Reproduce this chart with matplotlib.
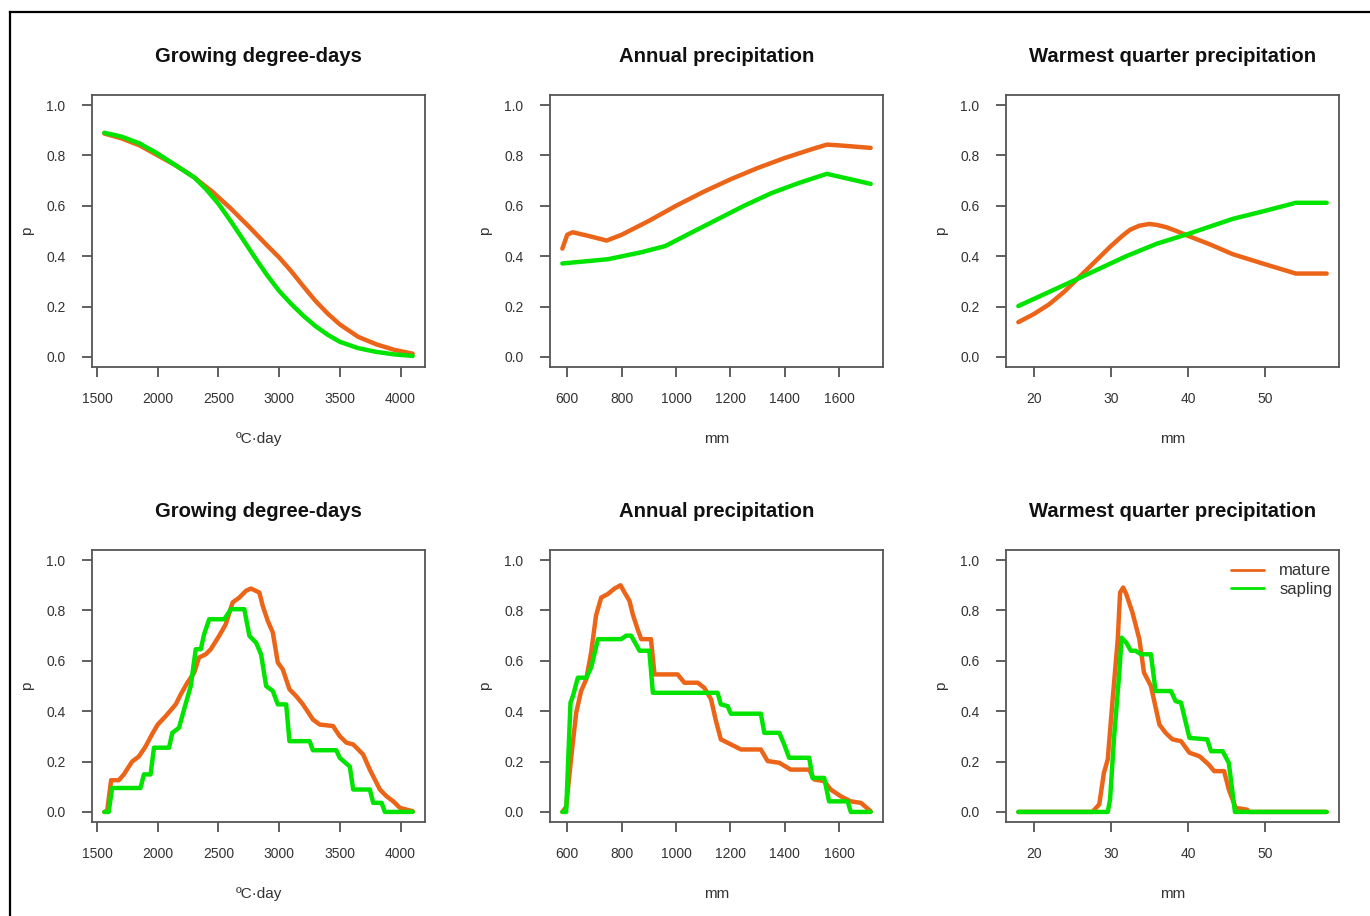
import matplotlib
matplotlib.use('Agg')
import matplotlib.pyplot as plt
from matplotlib.lines import Line2D

# ---- data ----
# top row: fitted response curves
gdd_x_m = [1560, 1700, 1850, 2000, 2150, 2300, 2450, 2600, 2750, 2900, 3000, 3100, 3200, 3300,
           3400, 3500, 3650, 3800, 3950, 4100]
gdd_mature = [0.887, 0.868, 0.84, 0.80, 0.76, 0.713, 0.656, 0.59, 0.518, 0.443, 0.395, 0.34,
              0.28, 0.222, 0.172, 0.129, 0.08, 0.05, 0.028, 0.013]
gdd_x_s = [1560, 1700, 1850, 2000, 2150, 2300, 2400, 2500, 2600, 2700, 2800, 2900, 3000, 3100,
           3200, 3300, 3400, 3500, 3650, 3800, 3950, 4100]
gdd_sapling = [0.89, 0.875, 0.848, 0.807, 0.76, 0.713, 0.665, 0.608, 0.54, 0.468, 0.395, 0.325,
               0.262, 0.21, 0.163, 0.122, 0.088, 0.06, 0.035, 0.02, 0.01, 0.004]

ap_x_m = [582, 600, 620, 680, 745, 800, 900, 1000, 1100, 1200, 1300, 1400, 1500, 1555, 1600, 1716]
ap_mature = [0.43, 0.485, 0.495, 0.48, 0.462, 0.485, 0.54, 0.60, 0.655, 0.705, 0.75, 0.79, 0.825, 0.843, 0.84, 0.83]
ap_x_s = [582, 750, 870, 960, 1050, 1150, 1250, 1350, 1450, 1555, 1716]
ap_sapling = [0.371, 0.388, 0.415, 0.44, 0.49, 0.545, 0.60, 0.65, 0.69, 0.727, 0.687]

wq_x_m = [18, 20, 22, 24, 26, 28, 30, 31.5, 32.5, 33.7, 35, 36, 37.2, 38.5, 40, 43, 45.8, 50, 54, 58]
wq_mature = [0.138, 0.17, 0.209, 0.26, 0.32, 0.38, 0.44, 0.481, 0.505, 0.521, 0.528, 0.524,
             0.515, 0.50, 0.481, 0.445, 0.408, 0.368, 0.331, 0.331]
wq_x_s = [18, 24.2, 32, 36, 40, 45.8, 50, 54, 58]
wq_sapling = [0.202, 0.289, 0.40, 0.45, 0.488, 0.548, 0.58, 0.612, 0.612]

# bottom row: observed frequencies
gdd_ox_m = [1560, 1583, 1616, 1679, 1721, 1762, 1789, 1844, 1900, 1955, 2000, 2065, 2148, 2190,
            2244, 2300, 2340, 2395, 2437, 2507, 2560, 2617, 2672, 2727, 2768, 2837, 2865, 2906,
            2948, 2989, 3030, 3085, 3140, 3196, 3278, 3334, 3444, 3499, 3554, 3610, 3692, 3747,
            3830, 3885, 3940, 3995, 4100]
gdd_obs_mature = [0.0, 0.003, 0.126, 0.126, 0.149, 0.18, 0.20, 0.22, 0.26, 0.31, 0.347, 0.38,
                  0.427, 0.467, 0.513, 0.553, 0.613, 0.626, 0.646, 0.70, 0.745, 0.832, 0.851,
                  0.878, 0.887, 0.871, 0.818, 0.759, 0.712, 0.593, 0.566, 0.487, 0.46, 0.427,
                  0.367, 0.347, 0.341, 0.301, 0.275, 0.268, 0.228, 0.168, 0.089, 0.062, 0.042,
                  0.016, 0.003]
gdd_ox_s = [1560, 1596, 1624, 1858, 1886, 1941, 1969, 2093, 2120, 2175, 2217, 2272, 2313, 2355,
            2382, 2424, 2548, 2603, 2713, 2755, 2810, 2851, 2893, 2948, 2989, 3058, 3085, 3251,
            3278, 3471, 3499, 3582, 3610, 3747, 3775, 3844, 3871, 4100]
gdd_obs_sapling = [0.0, 0.0, 0.095, 0.095, 0.149, 0.149, 0.255, 0.255, 0.314, 0.334, 0.407,
                   0.50, 0.646, 0.646, 0.706, 0.765, 0.765, 0.805, 0.805, 0.699, 0.672, 0.626,
                   0.50, 0.48, 0.427, 0.427, 0.281, 0.281, 0.245, 0.245, 0.215, 0.18, 0.089,
                   0.089, 0.036, 0.036, 0.0, 0.0]

ap_ox_m = [582, 596, 615, 633, 651, 670, 688, 706, 725, 749, 774, 796, 811, 829, 841, 859, 872,
           908, 921, 1006, 1031, 1080, 1104, 1129, 1147, 1165, 1202, 1239, 1312, 1337, 1380,
           1422, 1490, 1508, 1545, 1569, 1606, 1643, 1680, 1716]
ap_obs_mature = [0.0, 0.02, 0.22, 0.394, 0.48, 0.527, 0.633, 0.78, 0.851, 0.865, 0.887, 0.90,
                 0.871, 0.838, 0.785, 0.725, 0.686, 0.686, 0.546, 0.546, 0.513, 0.513, 0.493,
                 0.447, 0.361, 0.288, 0.268, 0.248, 0.248, 0.202, 0.195, 0.168, 0.168, 0.129,
                 0.122, 0.089, 0.062, 0.042, 0.036, 0.003]
ap_ox_s = [582, 596, 612, 621, 639, 670, 688, 713, 798, 817, 835, 866, 902, 915, 1153, 1165,
           1190, 1202, 1312, 1325, 1380, 1398, 1416, 1490, 1502, 1545, 1563, 1631, 1643, 1716]
ap_obs_sapling = [0.0, 0.0, 0.434, 0.46, 0.533, 0.533, 0.573, 0.686, 0.686, 0.70, 0.70, 0.64,
                  0.64, 0.473, 0.473, 0.427, 0.42, 0.39, 0.39, 0.314, 0.314, 0.268, 0.215,
                  0.215, 0.135, 0.135, 0.042, 0.042, 0.0, 0.0]

wq_ox_m = [18, 27.6, 28.5, 29.1, 29.6, 30.2, 30.9, 31.2, 31.6, 32.0, 32.8, 33.7, 34.3, 35.2,
           36.3, 37.1, 38.0, 39.1, 40.2, 41.5, 42.7, 43.4, 44.7, 45.3, 46.2, 47.7, 47.9, 58]
wq_obs_mature = [0.0, 0.0, 0.03, 0.155, 0.208, 0.434, 0.686, 0.871, 0.891, 0.865, 0.792, 0.686,
                 0.553, 0.50, 0.347, 0.314, 0.288, 0.281, 0.235, 0.221, 0.188, 0.162, 0.162,
                 0.089, 0.016, 0.009, 0.0, 0.0]
wq_ox_s = [18, 29.6, 29.9, 30.4, 31.1, 31.4, 32.0, 32.6, 33.2, 33.9, 35.2, 35.8, 37.8, 38.4,
           39.1, 40.2, 42.5, 43.0, 44.5, 45.3, 46.1, 58]
wq_obs_sapling = [0.0, 0.0, 0.049, 0.288, 0.553, 0.692, 0.672, 0.64, 0.64, 0.626, 0.626, 0.48,
                  0.48, 0.44, 0.434, 0.294, 0.288, 0.241, 0.241, 0.195, 0.0, 0.0]

titles = ['Growing degree-days', 'Annual precipitation', 'Warmest quarter precipitation']
xlabels = ['\u00baC\u00b7day', 'mm', 'mm']
xticks = [[1500, 2000, 2500, 3000, 3500, 4000],
          [600, 800, 1000, 1200, 1400, 1600],
          [20, 30, 40, 50]]
yticks = [0.0, 0.2, 0.4, 0.6, 0.8, 1.0]

col_m = '#EB6418'
col_s = '#00E400'
lw = 3.2

top = [(gdd_x_m, gdd_mature, gdd_x_s, gdd_sapling),
       (ap_x_m, ap_mature, ap_x_s, ap_sapling),
       (wq_x_m, wq_mature, wq_x_s, wq_sapling)]
bottom = [(gdd_ox_m, gdd_obs_mature, gdd_ox_s, gdd_obs_sapling),
          (ap_ox_m, ap_obs_mature, ap_ox_s, ap_obs_sapling),
          (wq_ox_m, wq_obs_mature, wq_ox_s, wq_obs_sapling)]

plt.rcParams['font.family'] = ['Liberation Sans', 'DejaVu Sans']

W, H = 1370, 916
fig = plt.figure(figsize=(W / 100, H / 100), dpi=100, facecolor='w')

lefts = [92, 550, 1006]
tops = [95, 550]
aw, ah = 333, 272


def setup(ax, i):
    ax.set_title(titles[i], fontsize=14.6, fontweight='bold', pad=24, color='#111111')
    ax.set_ylim(-0.04, 1.04)
    ax.set_yticks(yticks)
    ax.set_yticklabels(['%.1f' % v for v in yticks])
    ax.set_xticks(xticks[i])
    for s in ax.spines.values():
        s.set_color('#555555')
        s.set_linewidth(1.3)
    ax.tick_params(length=7, width=1.2, color='#444444', labelsize=10, labelcolor='#333333')
    ax.tick_params(axis='y', pad=12)
    ax.tick_params(axis='x', pad=11)
    ax.set_xlabel(xlabels[i], fontsize=11, color='#333333')
    ax.xaxis.set_label_coords(0.5, -0.238)
    ax.set_ylabel('p', fontsize=11, color='#333333')
    ax.yaxis.set_label_coords(-0.175, 0.5)


for r, rows in enumerate([top, bottom]):
    for i, (xm, ym, xs, ys) in enumerate(rows):
        ax = fig.add_axes([lefts[i] / W, 1 - (tops[r] + ah) / H, aw / W, ah / H])
        ax.plot(xm, ym, color=col_m, lw=lw, label='mature', solid_capstyle='round', solid_joinstyle='round')
        ax.plot(xs, ys, color=col_s, lw=lw, label='sapling', solid_capstyle='round', solid_joinstyle='round')
        lo = min(xm[0], xs[0])
        hi = max(xm[-1], xs[-1])
        pad = 0.04 * (hi - lo)
        ax.set_xlim(lo - pad, hi + pad)
        setup(ax, i)
        if r == 1 and i == 2:
            leg = ax.legend(loc='upper right', bbox_to_anchor=(1.0, 0.975), frameon=False,
                            fontsize=12, handlelength=2.0, handletextpad=0.9,
                            borderaxespad=0.0, labelspacing=0.2)
            for h in leg.get_lines():
                h.set_linewidth(2)
            for t in leg.get_texts():
                t.set_color('#333333')

# outer frame of the screenshot
fig.add_artist(Line2D([10 / W, 10 / W], [0, 1 - 12 / H], transform=fig.transFigure, color='k', lw=1.6))
fig.add_artist(Line2D([10 / W, 1], [1 - 12 / H, 1 - 12 / H], transform=fig.transFigure, color='k', lw=1.6))

fig.savefig('out.png', dpi=100, facecolor='w')
